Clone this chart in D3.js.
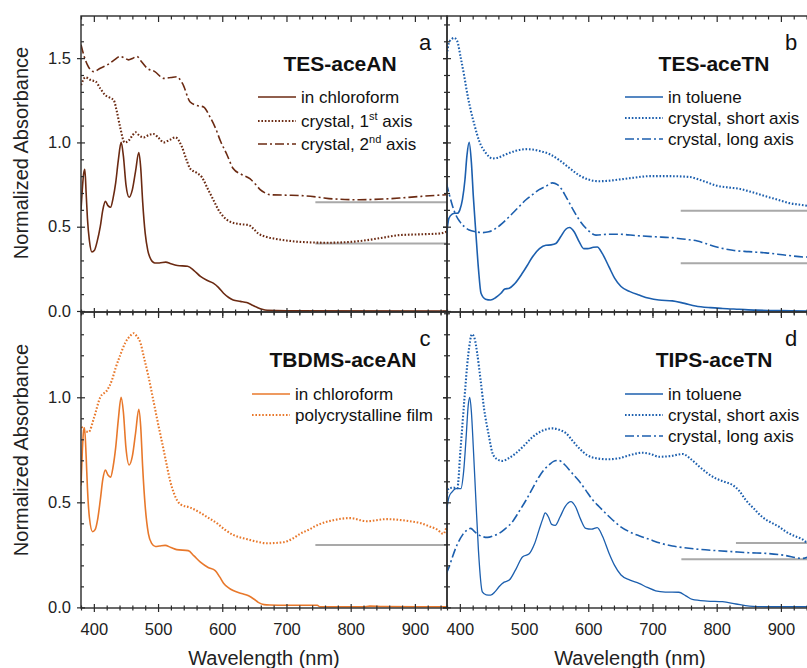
<!DOCTYPE html>
<html>
<head>
<meta charset="utf-8">
<script src="https://cdn.jsdelivr.net/npm/d3@7"></script>
<style>
  body { margin: 0; background: #fff; }
  svg { display: block; font-family: "Liberation Sans", Arial, sans-serif; }
</style>
</head>
<body>
<svg id="chart" width="807" height="668"></svg>
<script>
// ---- data: [wavelength nm, normalized absorbance] ----
const tesAN_chloroform = [[380,0.60],[382,0.72],[384,0.81],[386,0.84],[388,0.7],[390,0.55],[393,0.42],[397,0.35],[401,0.36],[405,0.41],[410,0.5],[414,0.6],[418,0.65],[422,0.625],[426,0.615],[430,0.67],[434,0.76],[438,0.89],[442.5,1.0],[446,0.92],[450,0.75],[455,0.675],[460,0.72],[465,0.83],[470,0.94],[473,0.85],[476,0.65],[480,0.46],[484,0.36],[489,0.305],[495,0.285],[502,0.285],[512,0.29],[520,0.28],[530,0.27],[546,0.265],[556,0.24],[566,0.205],[576,0.182],[586,0.165],[594,0.14],[602,0.105],[610,0.08],[617,0.065],[628,0.057],[638,0.05],[646,0.036],[654,0.022],[662,0.01],[670,0.004],[700,0.001],[950,0]];
const tesAN_axis1 = [[380,1.34],[387,1.386],[395,1.37],[403,1.36],[410,1.32],[418,1.28],[425,1.265],[431,1.25],[436,1.18],[441,1.09],[448,1.0],[454,1.01],[460,1.04],[465,1.06],[471,1.04],[478,1.03],[486,1.045],[493,1.05],[500,1.03],[509,1.0],[518,1.015],[527,1.03],[537,0.975],[544,0.9],[550,0.845],[560,0.82],[568,0.795],[578,0.72],[586,0.66],[594,0.6],[603,0.555],[612,0.53],[628,0.515],[641,0.51],[648,0.49],[656,0.46],[668,0.44],[680,0.43],[700,0.418],[721,0.41],[762,0.405],[800,0.41],[825,0.42],[850,0.435],[876,0.45],[910,0.455],[940,0.46],[949,0.47]];
const tesAN_axis2 = [[380,1.58],[385,1.51],[390,1.46],[395,1.43],[400,1.42],[410,1.44],[421,1.46],[432,1.49],[441,1.51],[448,1.5],[454,1.49],[461,1.5],[467,1.51],[474,1.48],[483,1.44],[495,1.42],[509,1.38],[520,1.385],[529,1.39],[538,1.35],[550,1.24],[560,1.22],[571,1.21],[581,1.15],[590,1.08],[597,1.01],[607,0.93],[617,0.845],[630,0.81],[643,0.785],[651,0.755],[659,0.72],[667,0.7],[674,0.69],[700,0.687],[721,0.685],[750,0.675],[772,0.665],[814,0.66],[850,0.664],[876,0.67],[910,0.68],[949,0.69]];

const tesTN_toluene = [[379,0.44],[383,0.55],[388,0.575],[392,0.58],[396,0.58],[400,0.6],[404,0.66],[408,0.78],[411,0.92],[414.5,1.0],[418,0.88],[421,0.68],[425,0.46],[429,0.25],[433,0.105],[440,0.07],[448,0.065],[456,0.08],[464,0.105],[470,0.13],[477,0.135],[485,0.16],[497.5,0.225],[505,0.27],[513,0.32],[524,0.37],[534,0.39],[542,0.392],[549.5,0.40],[557,0.44],[565,0.485],[571,0.495],[578,0.47],[586,0.41],[593,0.37],[599,0.37],[608,0.378],[614,0.38],[622,0.34],[632.5,0.26],[641,0.195],[651,0.145],[665,0.115],[679,0.095],[695,0.075],[710,0.065],[731,0.06],[750,0.045],[767,0.03],[790,0.02],[809,0.015],[835,0.01],[861,0.005],[900,0.002],[950,0]];
const tesTN_short = [[379,1.5],[383,1.59],[388,1.615],[391,1.62],[396,1.6],[401,1.51],[407,1.39],[412,1.28],[417,1.19],[423,1.1],[430,1.01],[440,0.94],[451,0.905],[460,0.91],[472,0.93],[487,0.95],[503,0.96],[513,0.958],[523.5,0.95],[540,0.93],[555,0.895],[570,0.85],[586,0.805],[600,0.78],[617,0.77],[630,0.772],[648,0.78],[670,0.79],[695,0.80],[725,0.80],[757,0.795],[780,0.77],[798.5,0.745],[820,0.732],[835,0.725],[855,0.705],[876.6,0.68],[895,0.66],[913,0.64],[930,0.63],[949,0.62]];
const tesTN_long = [[379,0.76],[383,0.70],[388,0.63],[393.7,0.57],[400,0.53],[407,0.5],[414.5,0.48],[425,0.47],[435,0.465],[445,0.47],[456,0.49],[466,0.52],[477,0.56],[490,0.61],[503,0.66],[513,0.69],[523.5,0.72],[534,0.74],[544,0.76],[552,0.75],[558,0.725],[565,0.68],[575,0.61],[586,0.54],[598,0.485],[612,0.45],[630,0.455],[648,0.455],[675,0.447],[705,0.44],[730,0.435],[752,0.425],[770,0.415],[783,0.40],[800,0.38],[825,0.36],[850,0.352],[876.6,0.345],[910,0.33],[939,0.32],[949,0.32]];

const tbdmsAN_chloroform = [[380,0.58],[382,0.74],[384,0.84],[385.5,0.855],[388,0.72],[390,0.57],[393,0.43],[398,0.36],[402,0.37],[406,0.42],[410,0.51],[414,0.61],[418,0.654],[422,0.63],[426,0.62],[430,0.67],[434,0.76],[438,0.89],[442.5,1.0],[446,0.93],[450,0.76],[455,0.678],[460,0.72],[465,0.83],[470,0.943],[473,0.86],[476,0.67],[480,0.48],[485,0.35],[490,0.305],[496,0.29],[502,0.292],[511,0.295],[520,0.285],[529,0.275],[547,0.27],[556,0.245],[566,0.215],[578,0.19],[589,0.175],[596,0.145],[602,0.115],[610,0.093],[617,0.08],[630,0.066],[641,0.055],[649,0.04],[656,0.024],[665,0.013],[674,0.011],[700,0.01],[748,0.01],[752,0.003],[820,0.003],[830,0.006],[850,0.004],[950,0.003]];
const tbdmsAN_film = [[381,0.86],[386,0.84],[392,0.835],[400,0.9],[410,1.0],[421,1.035],[428,1.08],[434,1.14],[441,1.2],[449,1.26],[456,1.29],[462,1.305],[467,1.29],[472.5,1.26],[478,1.19],[485,1.10],[493,0.98],[501,0.86],[508,0.76],[514,0.67],[519,0.6],[524.5,0.545],[535,0.49],[550,0.475],[566,0.45],[579,0.425],[592,0.40],[604,0.37],[617,0.345],[638,0.325],[655,0.312],[669,0.305],[695,0.31],[710,0.328],[721,0.35],[735,0.37],[747,0.39],[760,0.405],[773,0.415],[799,0.425],[825,0.41],[856,0.42],[892,0.41],[910,0.40],[923,0.385],[935,0.37],[944,0.35],[949,0.38]];

const tipsTN_toluene = [[379,0.45],[383,0.525],[388,0.55],[394,0.565],[401.5,0.565],[406,0.65],[410,0.82],[413,0.96],[415.5,1.0],[418,0.93],[421,0.76],[425,0.51],[429,0.27],[435,0.074],[441,0.06],[448,0.058],[455,0.075],[461,0.098],[469,0.12],[477,0.13],[487,0.18],[497.5,0.24],[508,0.255],[516,0.3],[523.5,0.37],[529,0.42],[533,0.45],[538,0.43],[543,0.395],[548.5,0.39],[556,0.43],[564,0.48],[573,0.503],[580,0.48],[588,0.42],[596,0.376],[605,0.372],[614,0.38],[622,0.34],[632.5,0.257],[641,0.2],[651,0.154],[665,0.13],[679,0.114],[692,0.095],[705,0.079],[720,0.073],[741,0.072],[752,0.055],[762,0.038],[785,0.03],[809,0.027],[830,0.016],[851,0.006],[880,0.003],[950,0.003]];
const tipsTN_short = [[379,0.527],[383,0.567],[390,0.57],[396,0.567],[401,0.75],[407,0.987],[413,1.2],[419,1.30],[423,1.28],[427,1.21],[432,1.09],[438,0.94],[445,0.82],[451,0.733],[458,0.705],[466,0.697],[476,0.71],[487,0.733],[500,0.77],[513,0.81],[528,0.84],[544,0.852],[555,0.845],[565,0.83],[575,0.795],[586,0.757],[598,0.725],[612,0.71],[630,0.705],[648,0.71],[665,0.725],[684,0.736],[697,0.73],[710,0.717],[728,0.72],[747,0.73],[760,0.705],[773,0.67],[785,0.64],[798.5,0.614],[812,0.598],[825,0.582],[835,0.555],[845.5,0.51],[858,0.47],[871,0.43],[884,0.405],[897,0.384],[908,0.36],[918,0.344],[933.6,0.324],[941,0.31],[949,0.34]];
const tipsTN_long = [[379,0.162],[383,0.19],[388.5,0.24],[396,0.3],[404,0.344],[410,0.365],[417,0.376],[423,0.36],[430,0.344],[443,0.333],[452,0.34],[461,0.352],[471,0.375],[482,0.408],[492,0.455],[503,0.51],[513,0.565],[523.5,0.622],[531,0.655],[539,0.678],[546,0.695],[553.6,0.70],[563,0.68],[575,0.638],[586,0.6],[596,0.558],[606,0.515],[617,0.479],[628,0.445],[638,0.416],[650,0.385],[664,0.36],[680,0.34],[695,0.324],[713,0.305],[731,0.292],[750,0.284],[773,0.276],[800,0.27],[825,0.265],[850,0.26],[876.6,0.257],[905,0.248],[933.6,0.233],[949,0.25]];

// gray baselines: [start wavelength, absorbance]
const tesAN_refs = [[745, 0.645], [745, 0.40]];
const tesTN_refs = [[744, 0.595], [744, 0.283]];
const tbdmsAN_refs = [[745, 0.297]];
const tipsTN_refs = [[830, 0.307], [745, 0.229]];

const xMajor = [400, 500, 600, 700, 800, 900];
const yMajorTop = [0, 0.5, 1.0, 1.5];
const yMajorBottom = [0, 0.5, 1.0];

// ---- layout ----
const svg = d3.select('#chart');
const W = 366, H = 296;
const xDomain = [380, 950];
const brown = '#6b2a12', orange = '#e8782b', blue = '#1c5fae';

const styles = {
  solid:   { width: 1.6, dash: null },
  dotted:  { width: 2.1, dash: '1.6 1.8' },
  dashdot: { width: 1.6, dash: '9 3 2 3' }
};

const panels = [
  { x0: 81, y0: 16, yDomain: [-0.006, 1.75], yMajor: yMajorTop, color: brown,
    letter: 'a', title: 'TES-aceAN', titleX: 259, legendDx: 177, legendRows: [81, 105, 128],
    showY: true, showX: false, refs: tesAN_refs,
    series: [
      { data: tesAN_chloroform, style: 'solid', label: ['in chloroform'] },
      { data: tesAN_axis1, style: 'dotted', label: ['crystal, 1', 'st', ' axis'] },
      { data: tesAN_axis2, style: 'dashdot', label: ['crystal, 2', 'nd', ' axis'] }
    ] },
  { x0: 447, y0: 16, yDomain: [-0.006, 1.75], yMajor: yMajorTop, color: blue,
    letter: 'b', title: 'TES-aceTN', titleX: 267, legendDx: 178, legendRows: [81, 102, 123],
    showY: false, showX: false, refs: tesTN_refs,
    series: [
      { data: tesTN_toluene, style: 'solid', label: ['in toluene'] },
      { data: tesTN_short, style: 'dotted', label: ['crystal, short axis'] },
      { data: tesTN_long, style: 'dashdot', label: ['crystal, long axis'] }
    ] },
  { x0: 81, y0: 312, yDomain: [-0.003, 1.406], yMajor: yMajorBottom, color: orange,
    letter: 'c', title: 'TBDMS-aceAN', titleX: 262, legendDx: 171, legendRows: [82, 103],
    showY: true, showX: true, refs: tbdmsAN_refs,
    series: [
      { data: tbdmsAN_chloroform, style: 'solid', label: ['in chloroform'] },
      { data: tbdmsAN_film, style: 'dotted', label: ['polycrystalline film'] }
    ] },
  { x0: 447, y0: 312, yDomain: [-0.003, 1.406], yMajor: yMajorBottom, color: blue,
    letter: 'd', title: 'TIPS-aceTN', titleX: 267, legendDx: 178, legendRows: [82, 103, 124],
    showY: false, showX: true, refs: tipsTN_refs,
    series: [
      { data: tipsTN_toluene, style: 'solid', label: ['in toluene'], width: 1.3 },
      { data: tipsTN_short, style: 'dotted', label: ['crystal, short axis'] },
      { data: tipsTN_long, style: 'dashdot', label: ['crystal, long axis'] }
    ] }
];

const axisColor = '#2a2a2a';

function styleAxis(g) {
  g.select('.domain').remove();
  g.selectAll('line').attr('stroke', axisColor).attr('stroke-width', 1.2);
  g.selectAll('text').attr('fill', '#222').style('font-size', '16.5px')
    .style('font-family', '"Liberation Sans", Arial, sans-serif');
}

panels.forEach((p, i) => {
  const x = d3.scaleLinear().domain(xDomain).range([p.x0, p.x0 + W]);
  const y = d3.scaleLinear().domain(p.yDomain).range([p.y0 + H, p.y0]);
  const xMinor = d3.range(380, 951, 20).filter(v => !xMajor.includes(v));
  const yMinor = d3.range(0, p.yDomain[1], 0.1).map(v => +v.toFixed(2))
    .filter(v => !p.yMajor.some(m => Math.abs(m - v) < 1e-6));

  const g = svg.append('g');
  const clipId = 'clip' + i;
  g.append('clipPath').attr('id', clipId).append('rect')
    .attr('x', p.x0).attr('y', p.y0).attr('width', W).attr('height', H);

  const plot = g.append('g').attr('clip-path', `url(#${clipId})`);

  // gray baselines
  plot.selectAll('line.ref').data(p.refs).enter().append('line')
    .attr('class', 'ref')
    .attr('x1', d => x(d[0])).attr('x2', x(xDomain[1]))
    .attr('y1', d => y(d[1])).attr('y2', d => y(d[1]))
    .attr('stroke', '#a9a9a9').attr('stroke-width', 2);

  const line = d3.line().x(d => x(d[0])).y(d => y(d[1])).curve(d3.curveMonotoneX);

  p.series.forEach(s => {
    const st = styles[s.style];
    plot.append('path').datum(s.data)
      .attr('d', line)
      .attr('fill', 'none')
      .attr('stroke', p.color)
      .attr('stroke-width', s.width || st.width)
      .attr('stroke-dasharray', st.dash)
      .attr('stroke-linejoin', 'round');
  });

  // frame
  g.append('rect').attr('x', p.x0).attr('y', p.y0).attr('width', W).attr('height', H)
    .attr('fill', 'none').attr('stroke', axisColor).attr('stroke-width', 1.4);

  // bottom axis (ticks crossing)
  const bMaj = g.append('g').attr('transform', `translate(0,${p.y0 + H})`)
    .call(d3.axisBottom(x).tickValues(xMajor).tickSize(4).tickSizeOuter(0)
      .tickFormat(p.showX ? d3.format('d') : ''));
  bMaj.selectAll('line').attr('y1', -4);
  bMaj.selectAll('text').attr('y', 15);
  styleAxis(bMaj);
  const bMin = g.append('g').attr('transform', `translate(0,${p.y0 + H})`)
    .call(d3.axisBottom(x).tickValues(xMinor).tickSize(2.5).tickSizeOuter(0).tickFormat(''));
  bMin.selectAll('line').attr('y1', -2.5);
  styleAxis(bMin);

  // top axis (ticks inward)
  const tMaj = g.append('g').attr('transform', `translate(0,${p.y0})`)
    .call(d3.axisTop(x).tickValues(xMajor).tickSize(-6).tickSizeOuter(0).tickFormat(''));
  styleAxis(tMaj);
  const tMin = g.append('g').attr('transform', `translate(0,${p.y0})`)
    .call(d3.axisTop(x).tickValues(xMinor).tickSize(-3.5).tickSizeOuter(0).tickFormat(''));
  styleAxis(tMin);

  // left axis
  const lMaj = g.append('g').attr('transform', `translate(${p.x0},0)`)
    .call(d3.axisLeft(y).tickValues(p.yMajor).tickSize(4).tickSizeOuter(0)
      .tickFormat(p.showY ? d3.format('.1f') : ''));
  lMaj.selectAll('line').attr('x1', 4);
  lMaj.selectAll('text').attr('x', -10);
  styleAxis(lMaj);
  const lMin = g.append('g').attr('transform', `translate(${p.x0},0)`)
    .call(d3.axisLeft(y).tickValues(yMinor).tickSize(-3).tickSizeOuter(0).tickFormat(''));
  styleAxis(lMin);

  // right axis (inward)
  const rMaj = g.append('g').attr('transform', `translate(${p.x0 + W},0)`)
    .call(d3.axisRight(y).tickValues(p.yMajor).tickSize(-4).tickSizeOuter(0).tickFormat(''));
  styleAxis(rMaj);
  const rMin = g.append('g').attr('transform', `translate(${p.x0 + W},0)`)
    .call(d3.axisRight(y).tickValues(yMinor).tickSize(-3).tickSizeOuter(0).tickFormat(''));
  styleAxis(rMin);

  // panel letter and title
  g.append('text').attr('x', p.x0 + 344).attr('y', p.y0 + 34)
    .attr('text-anchor', 'middle').style('font-size', '22px').attr('fill', '#111')
    .text(p.letter);
  g.append('text').attr('x', p.x0 + p.titleX).attr('y', p.y0 + 55)
    .attr('text-anchor', 'middle').style('font-size', '21px').style('font-weight', 'bold')
    .attr('fill', '#111').text(p.title);

  // legend
  p.series.forEach((s, k) => {
    const st = styles[s.style];
    const ry = p.y0 + p.legendRows[k];
    g.append('line')
      .attr('x1', p.x0 + p.legendDx).attr('x2', p.x0 + p.legendDx + 38)
      .attr('y1', ry).attr('y2', ry)
      .attr('stroke', p.color).attr('stroke-width', s.width || st.width)
      .attr('stroke-dasharray', st.dash);
    const t = g.append('text').attr('x', p.x0 + p.legendDx + 43).attr('y', ry + 6)
      .style('font-size', '17px').attr('fill', '#111');
    t.append('tspan').text(s.label[0]);
    if (s.label.length > 1) {
      t.append('tspan').attr('dy', -7).style('font-size', '11px').text(s.label[1]);
      t.append('tspan').attr('dy', 7).text(s.label[2]);
    }
  });
});

// axis titles
[[153], [450]].forEach(([cy]) => {
  svg.append('text').attr('transform', `translate(28,${cy}) rotate(-90)`)
    .attr('text-anchor', 'middle').style('font-size', '20px').attr('fill', '#222')
    .text('Normalized Absorbance');
});
[264, 630].forEach(cx => {
  svg.append('text').attr('x', cx).attr('y', 665)
    .attr('text-anchor', 'middle').style('font-size', '20px').attr('fill', '#222')
    .text('Wavelength (nm)');
});
</script>
</body>
</html>
